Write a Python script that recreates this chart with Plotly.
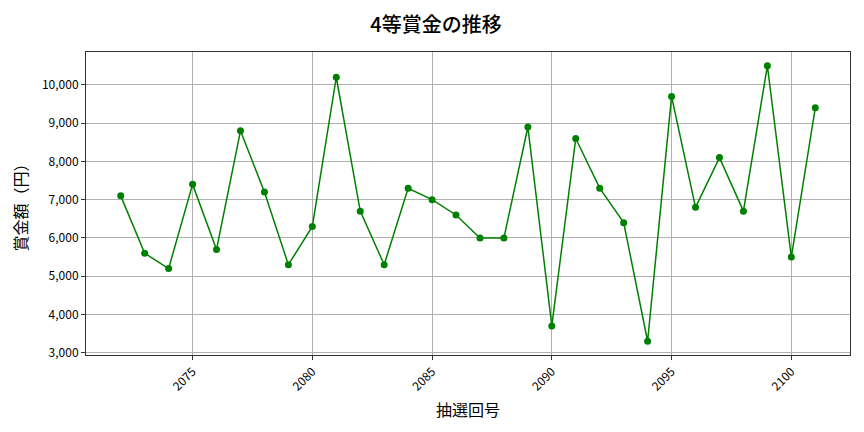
"""
4等賞金の推移 chart, recreated with plotly.
"""

import plotly.graph_objects as go


draw_numbers = list(range(2072, 2102))
prize_values = [7100, 5600, 5200, 7400, 5700, 8800, 7200, 5300, 6300, 10200,
                6700, 5300, 7300, 7000, 6600, 6000, 6000, 8900, 3700, 8600,
                7300, 6400, 3300, 9700, 6800, 8100, 6700, 10500, 5500, 9400]
x_ticks = [2075, 2080, 2085, 2090, 2095, 2100]
y_ticks = [3000, 4000, 5000, 6000, 7000, 8000, 9000, 10000]

FONT = 'Noto Sans CJK JP'


def main():
    fig = go.Figure()
    fig.add_trace(go.Scatter(x=draw_numbers, y=prize_values,
                             mode='lines+markers',
                             line=dict(color='green', width=1.5),
                             marker=dict(color='green', size=7)))

    axis_common = dict(showline=True, linecolor='#333333', linewidth=1,
                       mirror=True, showgrid=True, gridcolor='#b0b0b0',
                       gridwidth=1, ticks='outside', ticklen=4,
                       tickcolor='#333333', zeroline=False,
                       tickfont=dict(family=FONT, size=12, color='black'))

    fig.update_xaxes(range=[2070.55, 2102.45], tickvals=x_ticks,
                     tickangle=-45,
                     title=dict(text='抽選回号',
                                font=dict(family=FONT, size=16,
                                          color='black'),
                                standoff=12),
                     **axis_common)
    fig.update_yaxes(range=[2940, 10860], tickvals=y_ticks,
                     tickformat=',',
                     title=dict(text='賞金額（円）',
                                font=dict(family=FONT, size=16,
                                          color='black'),
                                standoff=10),
                     **axis_common)

    # the page body adds an 8px offset, so the figure is a bit smaller
    fig.update_layout(width=856, height=424,
                      margin=dict(l=78, r=14, t=44, b=77),
                      plot_bgcolor='white', paper_bgcolor='white',
                      showlegend=False,
                      title=dict(text='4等賞金の推移', x=0.5,
                                 xanchor='center', y=0.96,
                                 yanchor='middle', yref='container',
                                 font=dict(family=FONT, size=20,
                                           weight=500, color='black')),
                      font=dict(family=FONT))
    fig.write_html('out.html')


if __name__ == '__main__':
    main()
